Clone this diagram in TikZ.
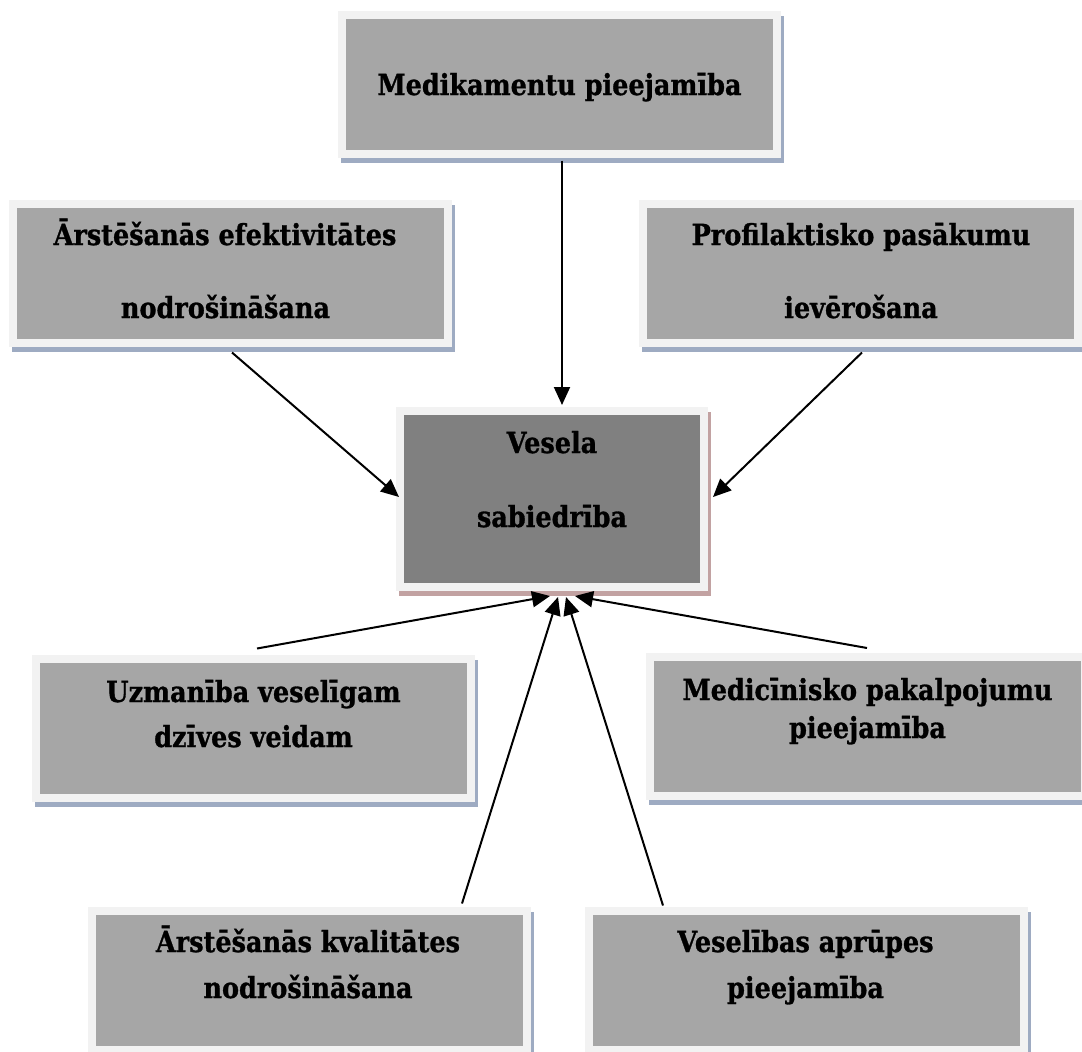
\documentclass[tikz,border=0pt]{standalone}
\usepackage{fontspec}
\setmainfont{DejaVu Serif}[FakeStretch=0.88, BoldFeatures={FakeBold=1}]
\usetikzlibrary{arrows.meta}
\definecolor{boxfill}{HTML}{A6A6A6}
\definecolor{cfill}{HTML}{808080}
\definecolor{boxborder}{HTML}{F2F2F2}
\definecolor{shadowblue}{HTML}{9EABC2}
\definecolor{shadowpink}{HTML}{C2A2A2}
\begin{document}
\begin{tikzpicture}[x=1pt,y=-1pt,
  box/.style={rectangle, draw=boxborder, line width=8pt, fill=boxfill,
    minimum width=435pt, minimum height=139pt, inner sep=0pt, outer sep=0pt,
    preaction={draw=#1, fill=#1, line width=8pt, transform canvas={shift={(3pt,-5pt)}}}},
  box/.default=shadowblue,
  lbl/.style={anchor=base, inner sep=0pt, font=\bfseries\fontsize{29}{32}\selectfont},
  arr/.style={-{Triangle[length=18pt,width=16pt]}, line width=2pt, black}]
\useasboundingbox (0,0) rectangle (1082,1052);

% boxes
\node[box] (b1) at (559.5,84) {};
\node[box] (b2) at (230.5,273) {};
\node[box] (b3) at (860.5,273) {};
\node[box=shadowpink, fill=cfill, minimum width=304pt, minimum height=176pt] (c) at (552,499) {};
\node[box] (b4) at (253,728) {};
\node[box] (b5) at (867.5,726.5) {};
\node[box] (b6) at (309,980) {};
\node[box] (b7) at (806,980) {};

% texts
\node[lbl] (t1) at (559.5,95) {Medikamentu pieejamība};
\node[lbl] (t2a) at (225,245) {Ārstēšanās efektivitātes};
\node[lbl] (t2b) at (225.5,318) {nodrošināšana};
\node[lbl] (t3a) at (861,245) {Profilaktisko pasākumu};
\node[lbl] (t3b) at (861,318) {ievērošana};
\node[lbl] (tc1) at (552,453) {Vesela};
\node[lbl] (tc2) at (552,527) {sabiedrība};
\node[lbl] (t4a) at (253.5,702) {Uzmanība veselīgam};
\node[lbl] (t4b) at (253.5,747) {dzīves veidam};
\node[lbl] (t5a) at (867.5,700) {Medicīnisko pakalpojumu};
\node[lbl] (t5b) at (867.5,738) {pieejamība};
\node[lbl] (t6a) at (308,952) {Ārstēšanās kvalitātes};
\node[lbl] (t6b) at (308,998) {nodrošināšana};
\node[lbl] (t7a) at (805.5,952) {Veselības aprūpes};
\node[lbl] (t7b) at (805.5,998) {pieejamība};

% connectors
\draw[arr] ([shift={(2.5pt,-7pt)}]b1.south) -- ([shift={(10pt,6pt)}]c.north);
\draw[arr] ([shift={(1.5pt,-10pt)}]b2.south) -- ([shift={(-1pt,2pt)}]c.west);
\draw[arr] ([shift={(1.5pt,-10pt)}]b3.south) -- ([shift={(9pt,2pt)}]c.east);
\draw[arr] ([shift={(4pt,10pt)}]b4.north) -- ([shift={(-2pt,-9pt)}]c.south);
\draw[arr] ([shift={(153pt,7pt)}]b6.north) -- ([shift={(6pt,-10pt)}]c.south);
\draw[arr] ([shift={(-143pt,5pt)}]b7.north) -- ([shift={(14pt,-10pt)}]c.south);
\draw[arr] ([shift={(-0.5pt,9pt)}]b5.north) -- ([shift={(23pt,-9pt)}]c.south);
\end{tikzpicture}
\end{document}
